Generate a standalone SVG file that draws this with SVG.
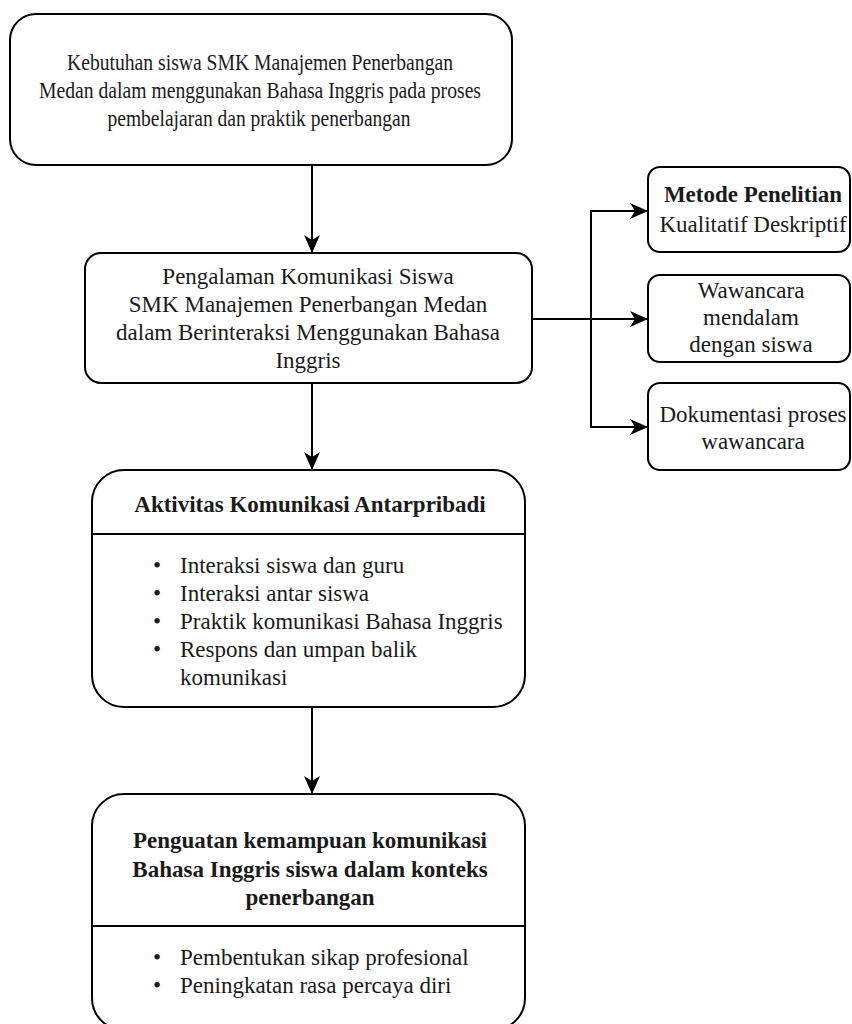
<svg xmlns="http://www.w3.org/2000/svg" width="852" height="1024" viewBox="0 0 852 1024">
<defs>
<marker id="ah" viewBox="0 0 18 16" refX="18" refY="8" markerWidth="18" markerHeight="16" markerUnits="userSpaceOnUse" orient="auto">
<path d="M0,0 L18,8 L0,16 L5,8 Z" fill="#000"/>
</marker>
<style>
.box{fill:#fff;stroke:#000;stroke-width:2}
.ln{stroke:#000;stroke-width:2;fill:none}
.t{font-family:'Liberation Serif','Times New Roman',serif;font-size:23px;fill:#1a1a1a}
.c{text-anchor:middle}
.b{font-weight:bold}
</style>
</defs>
<rect width="852" height="1024" fill="#fff"/>
<g id="connectors">
<path class="ln" d="M312,165 V253" marker-end="url(#ah)"/>
<path class="ln" d="M312,383 V470" marker-end="url(#ah)"/>
<path class="ln" d="M312,707 V794" marker-end="url(#ah)"/>
<path class="ln" d="M532,319 H648" marker-end="url(#ah)"/>
<path class="ln" d="M591,319 V211 H648" marker-end="url(#ah)"/>
<path class="ln" d="M591,319 V427 H648" marker-end="url(#ah)"/>
</g>
<g id="node1" class="t">
<rect class="box" x="10" y="14" width="502" height="151" rx="26"/>
<text class="c" x="260" y="70" textLength="386" lengthAdjust="spacingAndGlyphs">Kebutuhan siswa SMK Manajemen Penerbangan</text>
<text class="c" x="260" y="98" textLength="442" lengthAdjust="spacingAndGlyphs">Medan dalam menggunakan Bahasa Inggris pada proses</text>
<text class="c" x="259" y="126" textLength="303" lengthAdjust="spacingAndGlyphs">pembelajaran dan praktik penerbangan</text>
</g>
<g id="node2" class="t">
<rect class="box" x="85" y="253" width="447" height="130" rx="16"/>
<text class="c" x="308" y="284">Pengalaman Komunikasi Siswa</text>
<text class="c" x="308" y="312">SMK Manajemen Penerbangan Medan</text>
<text class="c" x="308" y="340">dalam Berinteraksi Menggunakan Bahasa</text>
<text class="c" x="308" y="368">Inggris</text>
</g>
<g id="node3" class="t">
<rect class="box" x="648" y="167" width="202" height="85" rx="12"/>
<text class="c b" x="753" y="202">Metode Penelitian</text>
<text class="c" x="753" y="232">Kualitatif Deskriptif</text>
</g>
<g id="node4" class="t">
<rect class="box" x="648" y="275" width="202" height="87" rx="12"/>
<text class="c" x="751" y="298">Wawancara</text>
<text class="c" x="751" y="325">mendalam</text>
<text class="c" x="751" y="352">dengan siswa</text>
</g>
<g id="node5" class="t">
<rect class="box" x="648" y="383" width="202" height="87" rx="12"/>
<text class="c" x="753" y="422">Dokumentasi proses</text>
<text class="c" x="753" y="449">wawancara</text>
</g>
<g id="node6" class="t">
<rect class="box" x="92" y="470" width="433" height="237" rx="32"/>
<line class="ln" x1="92" y1="534" x2="525" y2="534"/>
<text class="c b" x="310" y="512">Aktivitas Komunikasi Antarpribadi</text>
<text x="153" y="573">•</text><text x="180" y="573">Interaksi siswa dan guru</text>
<text x="153" y="601">•</text><text x="180" y="601">Interaksi antar siswa</text>
<text x="153" y="629">•</text><text x="180" y="629">Praktik komunikasi Bahasa Inggris</text>
<text x="153" y="657">•</text><text x="180" y="657">Respons dan umpan balik</text>
<text x="180" y="685">komunikasi</text>
</g>
<g id="node7" class="t">
<rect class="box" x="92" y="794" width="433" height="236" rx="32"/>
<line class="ln" x1="92" y1="926" x2="525" y2="926"/>
<text class="c b" x="310" y="848">Penguatan kemampuan komunikasi</text>
<text class="c b" x="310" y="877">Bahasa Inggris siswa dalam konteks</text>
<text class="c b" x="310" y="905">penerbangan</text>
<text x="153" y="965">•</text><text x="180" y="965">Pembentukan sikap profesional</text>
<text x="153" y="993">•</text><text x="180" y="993">Peningkatan rasa percaya diri</text>
</g>
</svg>
